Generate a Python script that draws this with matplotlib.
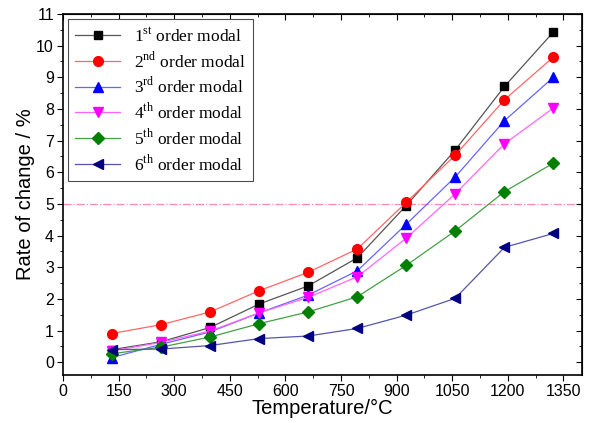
import numpy as np
import matplotlib; matplotlib.use("Agg")
import matplotlib.pyplot as plt
from matplotlib.ticker import MultipleLocator

temp = [132, 265, 397, 529, 661, 794, 926, 1058, 1191, 1323]
m1 = [0.40, 0.65, 1.10, 1.84, 2.41, 3.30, 4.95, 6.70, 8.71, 10.43]
m2 = [0.91, 1.19, 1.59, 2.26, 2.84, 3.58, 5.05, 6.54, 8.29, 9.64]
m3 = [0.15, 0.57, 0.96, 1.56, 2.12, 2.89, 4.36, 5.85, 7.63, 9.00]
m4 = [0.36, 0.63, 0.99, 1.56, 2.05, 2.70, 3.92, 5.32, 6.90, 8.03]
m5 = [0.27, 0.48, 0.80, 1.22, 1.59, 2.07, 3.06, 4.15, 5.39, 6.29]
m6 = [0.40, 0.42, 0.53, 0.75, 0.83, 1.07, 1.49, 2.02, 3.63, 4.07]
labels = ['1$^{\\rm st}$ order modal', '2$^{\\rm nd}$ order modal', '3$^{\\rm rd}$ order modal',
          '4$^{\\rm th}$ order modal', '5$^{\\rm th}$ order modal', '6$^{\\rm th}$ order modal']

plt.rcParams.update({'mathtext.fontset': 'custom', 'mathtext.rm': 'Liberation Serif',
                     'font.family': 'Liberation Sans'})

fig = plt.figure(figsize=(5.92, 4.23), dpi=100)
ax = fig.add_axes([0.1064, 0.1135, 0.8766, 0.8535])

# marker colour, line colour (lines look paler than markers), marker
styles = [('black', '#555555', 's'), ('red', '#ff6666', 'o'), ('blue', '#6666ff', '^'),
          ('magenta', '#ff66ff', 'v'), ('green', '#44a044', 'D'), ('navy', '#5555aa', '<')]
sizes = [6, 7, 7, 7, 6, 7]
for ys, (c, lc, mk), ms, lab in zip([m1, m2, m3, m4, m5, m6], styles, sizes, labels):
    ax.plot(temp, ys, '-', color=lc, marker=mk, ms=ms, lw=0.9, label=lab,
            markerfacecolor=c, markeredgecolor=c)

ax.axhline(5, color='#ff88bb', ls='-.', lw=0.9, zorder=0)

ax.set_xlim(0, 1400)
ax.set_ylim(-0.4, 11)
ax.xaxis.set_major_locator(MultipleLocator(150))
ax.xaxis.set_minor_locator(MultipleLocator(75))
ax.yaxis.set_major_locator(MultipleLocator(1))
ax.yaxis.set_minor_locator(MultipleLocator(0.5))
ax.tick_params(which='both', direction='out', top=False, right=False, labelsize=11.5)
ax.tick_params(which='major', length=4, pad=2.5)
ax.tick_params(which='minor', length=2.5)
ax2 = ax.secondary_xaxis('top')
ax2.xaxis.set_major_locator(MultipleLocator(150))
ax2.xaxis.set_minor_locator(MultipleLocator(75))
ax2.tick_params(which='both', direction='in', labeltop=False)
ax2.tick_params(which='major', length=4)
ax2.tick_params(which='minor', length=2.5)
ay2 = ax.secondary_yaxis('right')
ay2.yaxis.set_major_locator(MultipleLocator(1))
ay2.yaxis.set_minor_locator(MultipleLocator(0.5))
ay2.tick_params(which='both', direction='in', labelright=False)
ay2.tick_params(which='major', length=4)
ay2.tick_params(which='minor', length=2.5)
for sp in ax.spines.values():
    sp.set_linewidth(1.2)

ax.set_xlabel('Temperature/°C', fontsize=14.5, labelpad=0)
ax.set_ylabel('Rate of change / %', fontsize=14.5, labelpad=1)

leg = ax.legend(loc='upper left', prop={'family': 'Liberation Serif', 'size': 12.5},
                fancybox=False, edgecolor='0.3', handlelength=2.6, borderaxespad=0.3,
                labelspacing=0.3, framealpha=1)
leg.get_frame().set_linewidth(0.8)

fig.savefig('out.png', dpi=100)
